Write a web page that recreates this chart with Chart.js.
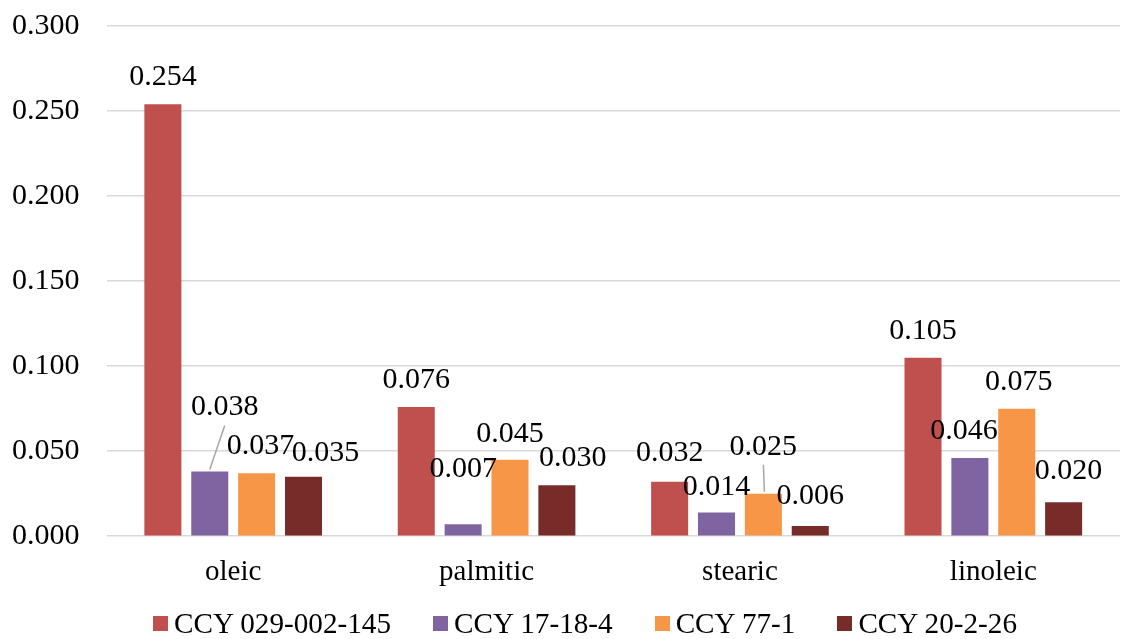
<!DOCTYPE html>
<html>
<head>
<meta charset="utf-8">
<title>Fatty acids</title>
<script src="https://cdn.jsdelivr.net/npm/chart.js@4.4.0/dist/chart.umd.min.js"></script>
<style>
  html, body { margin:0; padding:0; background:#fff; overflow:hidden; }
  #wrap { width:1125px; height:632px; position:absolute; left:0; top:-19px; }
  #legend {
    position:absolute; left:153px; top:607px; height:32px;
    display:flex; align-items:center;
    font-family:'Liberation Serif','Times New Roman',serif; font-size:29.2px; color:#000;
  }
  #legend .item { display:flex; align-items:center; margin-right:42px; white-space:nowrap; }
  #legend .box { width:15px; height:15px; margin-right:6px; }
</style>
</head>
<body>
<div id="wrap"><canvas id="chart"></canvas></div>
<div id="legend"></div>
<script>
'use strict';

// ===== data =====
const CATEGORIES = ["oleic", "palmitic", "stearic", "linoleic"];
const SERIES_NAMES = ["CCY 029-002-145", "CCY 17-18-4", "CCY 77-1", "CCY 20-2-26"];
const VALUES_029 = [0.254, 0.076, 0.032, 0.105];
const VALUES_17 = [0.038, 0.007, 0.014, 0.046];
const VALUES_77 = [0.037, 0.045, 0.025, 0.075];
const VALUES_20 = [0.035, 0.030, 0.006, 0.020];
const Y_TICKS = [0, 0.05, 0.10, 0.15, 0.20, 0.25, 0.30];

// ===== style =====
const COLORS = ["#c0504d", "#8064a2", "#f79646", "#772c2a"];
const FONT = "'Liberation Serif', 'Times New Roman', serif";

// label nudges in px per [series][category]: [dx, dy, leader]
const LABEL_NUDGE = [
  [[0,0],[0,0],[0,-2],[0,0]],
  [[15,-37,true],[0,-28],[0,2],[-6,0]],
  [[4,0],[0,1],[0,-20,true],[2,0]],
  [[22,3],[16,0],[0,-3],[5,-4]]
];

// data labels plugin
const barLabels = {
  id: 'barLabels',
  afterDatasetsDraw(chart){
    const ctx = chart.ctx;
    ctx.save();
    ctx.font = `30px ${FONT}`;
    ctx.fillStyle = '#000';
    ctx.textAlign = 'center';
    ctx.textBaseline = 'middle';
    chart.data.datasets.forEach((ds, si) => {
      chart.getDatasetMeta(si).data.forEach((bar, ci) => {
        const n = LABEL_NUDGE[si][ci] || [0,0];
        const lx = bar.x + n[0];
        const ly = bar.y - 27 + n[1];
        if(n[2]){
          ctx.strokeStyle = '#a6a6a6';
          ctx.lineWidth = 1.5;
          ctx.beginPath();
          ctx.moveTo(bar.x + (n[0] ? 0 : 1), bar.y - 2);
          ctx.lineTo(lx, ly + 18);
          ctx.stroke();
        }
        ctx.fillText(ds.data[ci].toFixed(3), lx, ly);
      });
    });
    ctx.restore();
  }
};

const datasets = [VALUES_029, VALUES_17, VALUES_77, VALUES_20].map((vals, i) => ({
  label: SERIES_NAMES[i],
  data: vals,
  backgroundColor: COLORS[i],
  borderWidth: 0,
  categoryPercentage: 0.74,
  barPercentage: 0.79
}));

new Chart(document.getElementById('chart'), {
  type: 'bar',
  data: { labels: CATEGORIES, datasets },
  plugins: [barLabels],
  options: {
    responsive: true,
    maintainAspectRatio: false,
    animation: false,
    layout: { padding: { top: 0, right: 5, left: -15, bottom: 12 } },
    plugins: {
      legend: { display: false },
      tooltip: { enabled: false }
    },
    scales: {
      x: {
        grid: { display: false },
        border: { display: false },
        ticks: { color: '#000', font: { family: FONT, size: 29 }, padding: 11 }
      },
      y: {
        min: 0,
        max: 0.3,
        afterBuildTicks(axis){ axis.ticks = Y_TICKS.map(v => ({ value: v })); },
        border: { display: false },
        grid: { color: '#d9d9d9', lineWidth: 1.5, drawTicks: false },
        ticks: {
          color: '#000',
          font: { family: FONT, size: 30 },
          padding: 27,
          callback: v => Number(v).toFixed(3)
        }
      }
    }
  }
});

// legend (html)
const elLegend = document.getElementById('legend');
SERIES_NAMES.forEach((name, i) => {
  const item = document.createElement('div');
  item.className = 'item';
  item.innerHTML = `<span class="box" style="background:${COLORS[i]}"></span><span>${name}</span>`;
  elLegend.appendChild(item);
});
</script>
</body>
</html>
